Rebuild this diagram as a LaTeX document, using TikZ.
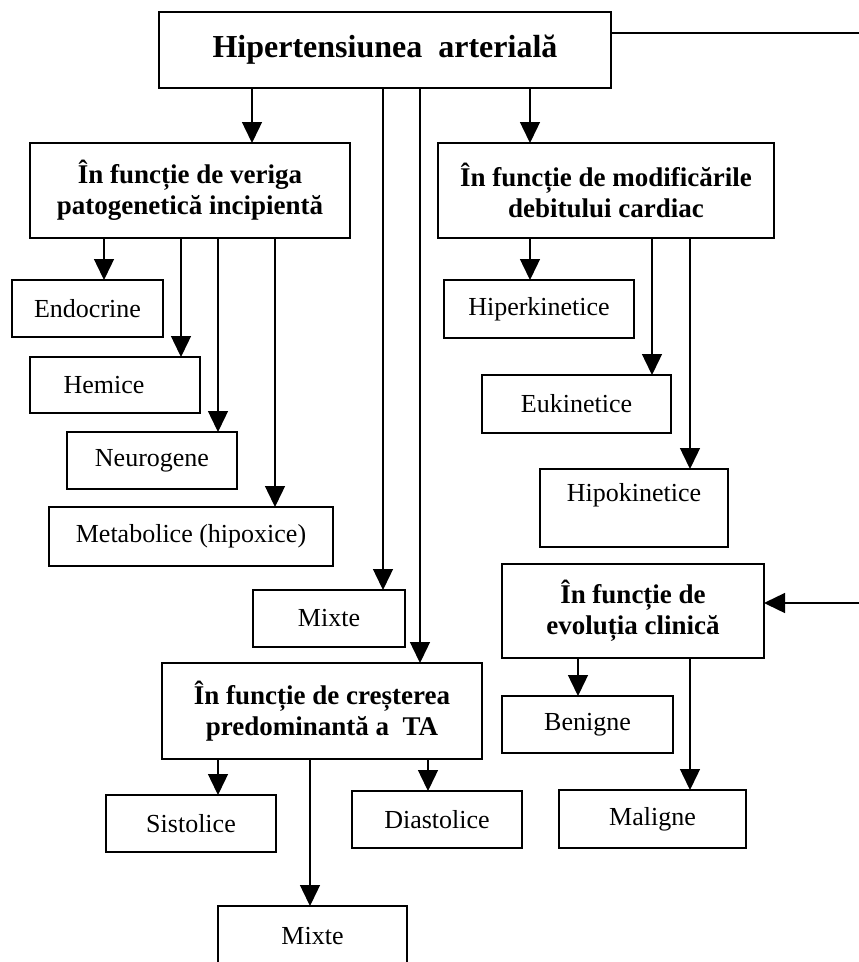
\documentclass[tikz,border=0pt]{standalone}
\usepackage{fontspec}
\setmainfont{Liberation Serif}
\usetikzlibrary{arrows.meta}
\usetikzlibrary{calc}
\newcommand\cbox[7][box]{
  \node[#1, minimum width={(#5-#3)*1pt}, minimum height={(#6-#4)*1pt}] (#2) at ({(#3+#5)/2},{(#4+#6)/2}) {#7};
}
\tikzset{
  box/.style={draw=black, line width=1.7pt, inner sep=2pt, outer sep=0pt, align=center,
    font=\fontsize{26}{30}\selectfont},
  head/.style={box, font=\fontsize{27}{31}\selectfont\bfseries},
  arr/.style={line width=1.4pt, -{Triangle[width=20pt,length=21pt]}},
}

\begin{document}
\begin{tikzpicture}[x=1pt,y=-1pt]
\useasboundingbox (0,0) rectangle (859,962);

\cbox[head]{top}{159}{12}{611}{88}{\fontsize{32}{35}\selectfont Hipertensiunea~ arterială}
\cbox[head]{veriga}{30}{143}{350}{238}{În funcție de veriga\\patogenetică incipientă}
\cbox[head]{modif}{438}{143}{774}{238}{În funcție de modificările\\debitului cardiac}
\cbox{endo}{12}{280}{163}{337}{Endocrine}
\cbox{hemic}{30}{357}{200}{413}{Hemice\hspace*{22pt}}
\cbox{neuro}{67}{432}{237}{489}{Neurogene}
\cbox{metab}{49}{507}{333}{566}{Metabolice (hipoxice)}
\cbox{hiperk}{444}{280}{634}{338}{Hiperkinetice}
\cbox{eukin}{482}{375}{671}{433}{Eukinetice}
\cbox[box,text depth=32pt]{hipok}{540}{469}{728}{547}{Hipokinetice}
\cbox{mixA}{253}{590}{405}{647}{Mixte}
\cbox[head]{evol}{502}{564}{764}{658}{În funcție de\\evoluția clinică}
\cbox[head]{crest}{162}{663}{482}{759}{În funcție de creșterea\\predominantă a~ TA}
\cbox{benign}{502}{696}{673}{753}{Benigne}
\cbox{malign}{559}{790}{746}{848}{Maligne}
\cbox{sistol}{106}{795}{276}{852}{Sistolice}
\cbox{diast}{352}{791}{522}{848}{Diastolice}
\cbox{mixB}{218}{906}{407}{966}{Mixte}

\coordinate (edge) at (864,33);

% from the title box
\draw[arr] (top.south -| 252,0) -- (veriga.north -| 252,0);
\draw[arr] (top.south -| 530,0) -- (modif.north -| 530,0);
\draw[arr] (top.south -| 383,0) -- (mixA.north -| 383,0);
\draw[arr] (top.south -| 420,0) -- (crest.north -| 420,0);
\draw[arr] (top.east |- edge) -- (edge) -- (edge |- 0,603) -- (evol.east |- 0,603);

% veriga patogenetica
\draw[arr] (veriga.south -| 104,0) -- (endo.north -| 104,0);
\draw[arr] (veriga.south -| 181,0) -- (hemic.north -| 181,0);
\draw[arr] (veriga.south -| 218,0) -- (neuro.north -| 218,0);
\draw[arr] (veriga.south -| 275,0) -- (metab.north -| 275,0);

% debitul cardiac
\draw[arr] (modif.south -| 530,0) -- (hiperk.north -| 530,0);
\draw[arr] (modif.south -| 652,0) -- (eukin.north -| 652,0);
\draw[arr] (modif.south -| 690,0) -- (hipok.north -| 690,0);

% evolutia clinica
\draw[arr] (evol.south -| 578,0) -- (benign.north -| 578,0);
\draw[arr] (evol.south -| 690,0) -- (malign.north -| 690,0);

% cresterea TA
\draw[arr] (crest.south -| 218,0) -- (sistol.north -| 218,0);
\draw[arr] (crest.south -| 310,0) -- (mixB.north -| 310,0);
\draw[arr] (crest.south -| 428,0) -- (diast.north -| 428,0);

\end{tikzpicture}
\end{document}
